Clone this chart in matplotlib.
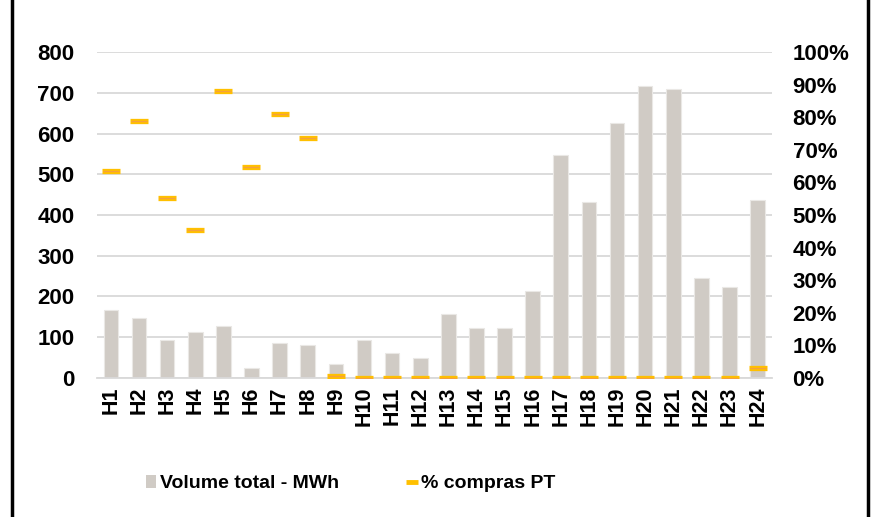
import matplotlib.pyplot as plt
from matplotlib.lines import Line2D
from matplotlib.patches import Patch

hours = [f'H{i}' for i in range(1, 25)]
volume = [167, 147, 92, 113, 128, 25, 85, 82, 34, 93, 61, 49,
          156, 123, 123, 213, 547, 432, 627, 717, 708, 245, 223, 436]
pct_pt = [63.4, 78.9, 55.3, 45.5, 88.0, 64.6, 80.9, 73.5, 0.6, 0, 0, 0,
          0, 0, 0, 0, 0, 0, 0, 0, 0, 0, 0, 3.0]

plt.rcParams['font.family'] = ['Liberation Sans', 'DejaVu Sans']
plt.rcParams['font.weight'] = 'bold'

bar_color = '#D0CBC5'
yellow = '#FFC000'
orange = '#F4A040'

fig = plt.figure(figsize=(8.72, 5.17), dpi=100)
ax = fig.add_axes([0.111, 0.2689, 0.774, 0.6305])
x = range(len(hours))

ax.bar(x, volume, width=0.52, color=bar_color, edgecolor='#EAE8E5', linewidth=0.8, zorder=2)
ax.set_ylim(0, 800)
ax.set_xlim(-0.5, 23.5)
ax.set_yticks(range(0, 801, 100))
ax.grid(axis='y', color='#D9D9D9', linewidth=1.3, zorder=0)
ax.set_axisbelow(True)
for s in ['top', 'right', 'left']:
    ax.spines[s].set_visible(False)
ax.spines['bottom'].set_color('#D9D9D9')
ax.spines['bottom'].set_linewidth(1.3)
ax.set_xticks(list(x))
ax.set_xticklabels(hours, rotation=90, fontsize=15.5, fontweight='bold')
ax.tick_params(axis='both', length=0)
ax.tick_params(axis='y', labelsize=16, pad=16)
ax.tick_params(axis='x', pad=6)

ax2 = ax.twinx()
ax2.set_ylim(0, 100)
ax2.set_yticks(range(0, 101, 10))
ax2.set_yticklabels([f'{v}%' for v in range(0, 101, 10)])
ax2.tick_params(axis='y', length=0, labelsize=16, pad=15)
for s in ax2.spines.values():
    s.set_visible(False)
ax2.plot(x, pct_pt, linestyle='none', marker='_', markersize=13, markeredgewidth=3.8,
         color=yellow, zorder=3)
ax2.plot(x, pct_pt, linestyle='none', marker='_', markersize=11, markeredgewidth=0.9,
         color=orange, zorder=4)

handles = [Patch(facecolor=bar_color, edgecolor='none'),
           Line2D([], [], linestyle='none', marker='_', markersize=9,
                  markeredgewidth=3.5, color=yellow)]
fig.legend(handles, ['Volume total - MWh', '% compras PT'], loc='center',
           bbox_to_anchor=(0.402, 0.064), ncol=2, frameon=False,
           prop={'size': 14, 'weight': 'bold'}, handlelength=0.55, handleheight=0.6,
           handletextpad=0.2, columnspacing=3.45)

# black side borders of the original frame
fig.add_artist(Line2D([0.0137, 0.0137], [0, 1], color='black', linewidth=2.5,
                      transform=fig.transFigure))
fig.add_artist(Line2D([0.9955, 0.9955], [0, 1], color='black', linewidth=2.5,
                      transform=fig.transFigure))

fig.savefig('out.png', dpi=100)
